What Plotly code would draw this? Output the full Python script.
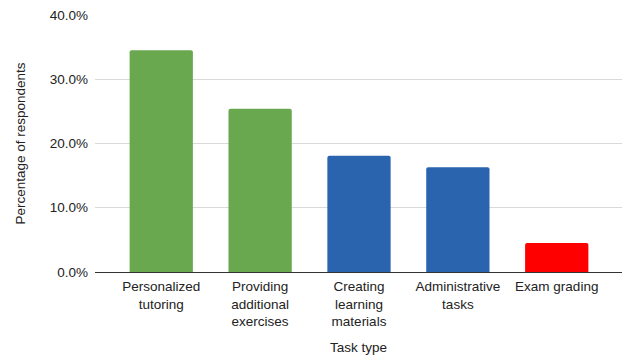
import plotly.graph_objects as go

categories = ["Personalized<br>tutoring", "Providing<br>additional<br>exercises",
              "Creating<br>learning<br>materials", "Administrative<br>tasks", "Exam grading"]
values = [0.345, 0.254, 0.181, 0.163, 0.045]
colors = ["#6aa84f", "#6aa84f", "#2a64ae", "#2a64ae", "#ff0000"]
y_ticks = [0, 0.1, 0.2, 0.3, 0.4]

fig = go.Figure(go.Bar(
    x=list(range(len(categories))), y=values, marker_color=colors,
    marker_line_width=0, width=0.64,
))
fig.update_layout(
    width=623, height=356,
    margin=dict(l=95, r=1, t=15, b=84),
    paper_bgcolor="white", plot_bgcolor="white",
    font=dict(family="Liberation Sans, Arial, sans-serif", size=13.5, color="#222"),
    showlegend=False,
    barcornerradius=2,
    xaxis=dict(
        tickmode="array", tickvals=list(range(len(categories))), ticktext=categories,
        range=[-0.67, 4.66], showgrid=False, showline=True, linecolor="#333", linewidth=1,
        ticks="", ticklabelstandoff=2,
        title=dict(text="Task type", standoff=14, font=dict(size=13.5)),
        automargin=False, fixedrange=True,
    ),
    yaxis=dict(
        range=[0, 0.4], tickvals=y_ticks, tickformat=".1%",
        showgrid=True, gridcolor="#d9d9d9", gridwidth=1, zeroline=False,
        ticks="", ticklabelstandoff=6,
        title=dict(text="Percentage of respondents", standoff=20, font=dict(size=13.5)),
        automargin=False,
    ),
)
fig.write_html("out.html")
